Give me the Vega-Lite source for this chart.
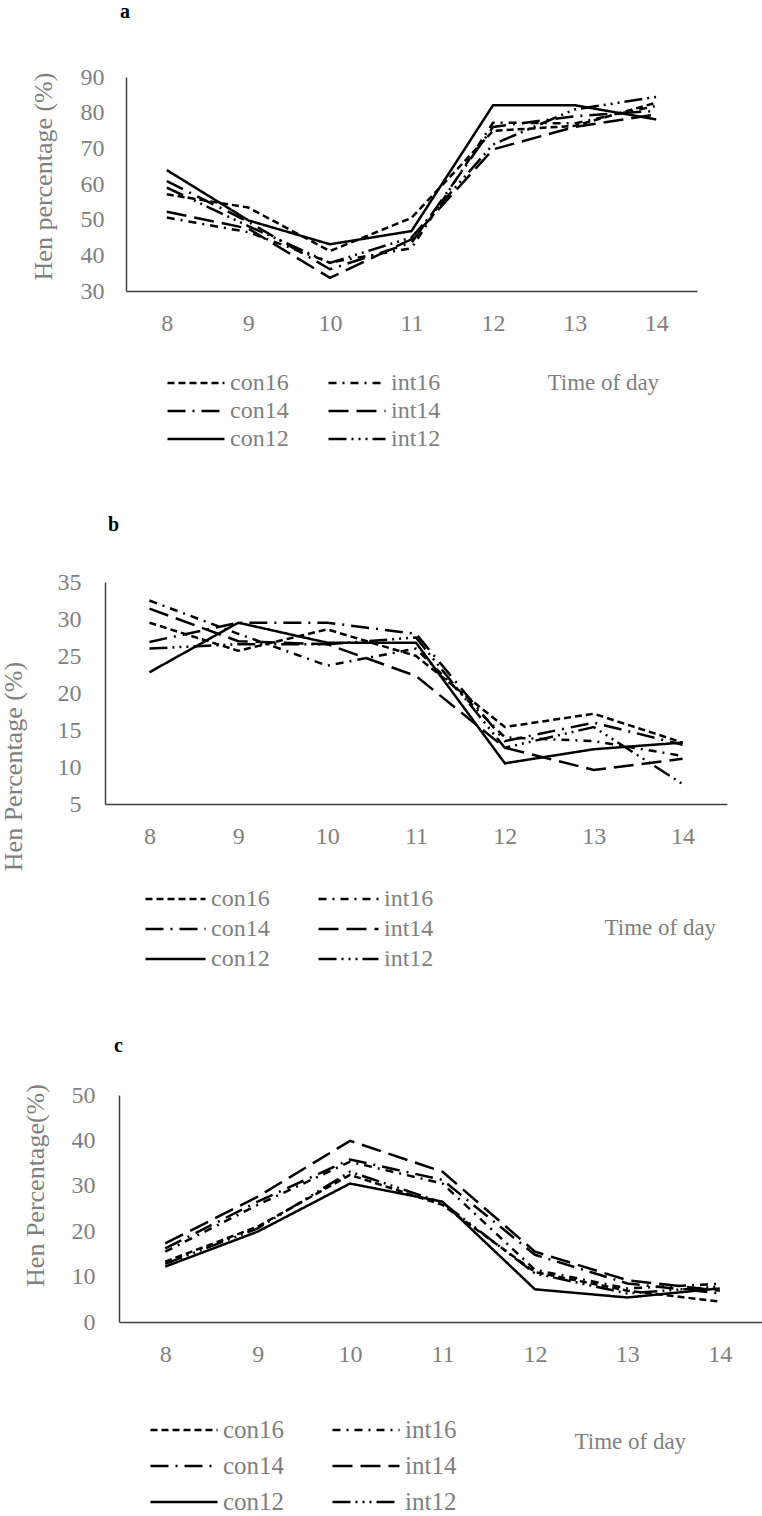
{
  "$schema": "https://vega.github.io/schema/vega-lite/v6.json",
  "padding": {"top": 2, "left": 0, "right": 0, "bottom": 0},
  "background": "white",
  "spacing": 62,
  "config": {
    "view": {"stroke": null},
    "font": "Liberation Serif",
    "axis": {"grid": false, "ticks": false, "domainColor": "#404040", "domainWidth": 1.5, "labelFont": "Liberation Serif", "labelColor": "#7f7f7f", "labelFontSize": 24, "titleFont": "Liberation Serif", "titleColor": "#7f7f7f", "titleFontWeight": "normal", "titleFontSize": 26},
    "axisX": {"labelAngle": 0, "labelPadding": 20, "titleFontSize": 23},
    "legend": {"labelFont": "Liberation Serif", "labelColor": "#7f7f7f", "labelFontSize": 24, "symbolType": "stroke", "symbolStrokeColor": "#000", "symbolStrokeWidth": 2.5, "labelOffset": 4, "padding": 0, "title": null},
    "title": {"font": "Liberation Serif", "fontWeight": "bold", "color": "#000", "fontSize": 20, "anchor": "start", "frame": "group", "baseline": "alphabetic"}
  },
  "resolve": {"scale": {"x": "independent", "y": "independent", "strokeDash": "independent"}, "legend": {"strokeDash": "independent"}},
  "datasets": {
    "a": [
      {"time": 8, "series": "con16", "value": 57.1}, {"time": 9, "series": "con16", "value": 53.4}, {"time": 10, "series": "con16", "value": 41.2}, {"time": 11, "series": "con16", "value": 50.5}, {"time": 12, "series": "con16", "value": 74.9}, {"time": 13, "series": "con16", "value": 76.3}, {"time": 14, "series": "con16", "value": 82.8},
      {"time": 8, "series": "int16", "value": 50.6}, {"time": 9, "series": "int16", "value": 46.5}, {"time": 10, "series": "int16", "value": 38.0}, {"time": 11, "series": "int16", "value": 42.0}, {"time": 12, "series": "int16", "value": 77.2}, {"time": 13, "series": "int16", "value": 77.0}, {"time": 14, "series": "int16", "value": 81.9},
      {"time": 8, "series": "con14", "value": 60.8}, {"time": 9, "series": "con14", "value": 49.4}, {"time": 10, "series": "con14", "value": 36.1}, {"time": 11, "series": "con14", "value": 43.5}, {"time": 12, "series": "con14", "value": 76.0}, {"time": 13, "series": "con14", "value": 79.0}, {"time": 14, "series": "con14", "value": 80.5},
      {"time": 8, "series": "int14", "value": 52.2}, {"time": 9, "series": "int14", "value": 47.5}, {"time": 10, "series": "int14", "value": 33.7}, {"time": 11, "series": "int14", "value": 44.5}, {"time": 12, "series": "int14", "value": 69.7}, {"time": 13, "series": "int14", "value": 76.0}, {"time": 14, "series": "int14", "value": 79.5},
      {"time": 8, "series": "con12", "value": 63.9}, {"time": 9, "series": "con12", "value": 49.8}, {"time": 10, "series": "con12", "value": 43.1}, {"time": 11, "series": "con12", "value": 46.8}, {"time": 12, "series": "con12", "value": 82.1}, {"time": 13, "series": "con12", "value": 82.1}, {"time": 14, "series": "con12", "value": 78.1},
      {"time": 8, "series": "int12", "value": 59.0}, {"time": 9, "series": "int12", "value": 48.2}, {"time": 10, "series": "int12", "value": 37.9}, {"time": 11, "series": "int12", "value": 45.0}, {"time": 12, "series": "int12", "value": 71.1}, {"time": 13, "series": "int12", "value": 80.9}, {"time": 14, "series": "int12", "value": 84.4}
    ],
    "b": [
      {"time": 8, "series": "con16", "value": 29.5}, {"time": 9, "series": "con16", "value": 25.7}, {"time": 10, "series": "con16", "value": 28.6}, {"time": 11, "series": "con16", "value": 25.0}, {"time": 12, "series": "con16", "value": 15.4}, {"time": 13, "series": "con16", "value": 17.2}, {"time": 14, "series": "con16", "value": 13.3},
      {"time": 8, "series": "int16", "value": 32.5}, {"time": 9, "series": "int16", "value": 28.0}, {"time": 10, "series": "int16", "value": 23.7}, {"time": 11, "series": "int16", "value": 26.0}, {"time": 12, "series": "int16", "value": 14.0}, {"time": 13, "series": "int16", "value": 13.5}, {"time": 14, "series": "int16", "value": 11.5},
      {"time": 8, "series": "con14", "value": 26.9}, {"time": 9, "series": "con14", "value": 29.5}, {"time": 10, "series": "con14", "value": 29.5}, {"time": 11, "series": "con14", "value": 28.0}, {"time": 12, "series": "con14", "value": 13.5}, {"time": 13, "series": "con14", "value": 16.0}, {"time": 14, "series": "con14", "value": 13.0},
      {"time": 8, "series": "int14", "value": 31.4}, {"time": 9, "series": "int14", "value": 27.0}, {"time": 10, "series": "int14", "value": 26.6}, {"time": 11, "series": "int14", "value": 22.3}, {"time": 12, "series": "int14", "value": 12.6}, {"time": 13, "series": "int14", "value": 9.6}, {"time": 14, "series": "int14", "value": 11.1},
      {"time": 8, "series": "con12", "value": 22.8}, {"time": 9, "series": "con12", "value": 29.5}, {"time": 10, "series": "con12", "value": 26.8}, {"time": 11, "series": "con12", "value": 26.8}, {"time": 12, "series": "con12", "value": 10.5}, {"time": 13, "series": "con12", "value": 12.4}, {"time": 14, "series": "con12", "value": 13.3},
      {"time": 8, "series": "int12", "value": 26.0}, {"time": 9, "series": "int12", "value": 26.6}, {"time": 10, "series": "int12", "value": 26.6}, {"time": 11, "series": "int12", "value": 27.5}, {"time": 12, "series": "int12", "value": 12.6}, {"time": 13, "series": "int12", "value": 15.4}, {"time": 14, "series": "int12", "value": 7.7}
    ],
    "c": [
      {"time": 8, "series": "con16", "value": 13.3}, {"time": 9, "series": "con16", "value": 21.0}, {"time": 10, "series": "con16", "value": 32.4}, {"time": 11, "series": "con16", "value": 25.8}, {"time": 12, "series": "con16", "value": 11.0}, {"time": 13, "series": "con16", "value": 6.9}, {"time": 14, "series": "con16", "value": 4.5},
      {"time": 8, "series": "int16", "value": 15.5}, {"time": 9, "series": "int16", "value": 25.8}, {"time": 10, "series": "int16", "value": 35.3}, {"time": 11, "series": "int16", "value": 30.5}, {"time": 12, "series": "int16", "value": 11.5}, {"time": 13, "series": "int16", "value": 7.4}, {"time": 14, "series": "int16", "value": 8.4},
      {"time": 8, "series": "con14", "value": 16.2}, {"time": 9, "series": "con14", "value": 26.5}, {"time": 10, "series": "con14", "value": 35.8}, {"time": 11, "series": "con14", "value": 31.3}, {"time": 12, "series": "con14", "value": 14.8}, {"time": 13, "series": "con14", "value": 8.5}, {"time": 14, "series": "con14", "value": 6.3},
      {"time": 8, "series": "int14", "value": 17.3}, {"time": 9, "series": "int14", "value": 27.6}, {"time": 10, "series": "int14", "value": 39.9}, {"time": 11, "series": "int14", "value": 33.1}, {"time": 12, "series": "int14", "value": 15.5}, {"time": 13, "series": "int14", "value": 9.2}, {"time": 14, "series": "int14", "value": 6.9},
      {"time": 8, "series": "con12", "value": 12.2}, {"time": 9, "series": "con12", "value": 19.9}, {"time": 10, "series": "con12", "value": 30.5}, {"time": 11, "series": "con12", "value": 26.5}, {"time": 12, "series": "con12", "value": 7.2}, {"time": 13, "series": "con12", "value": 5.4}, {"time": 14, "series": "con12", "value": 7.4},
      {"time": 8, "series": "int12", "value": 12.8}, {"time": 9, "series": "int12", "value": 20.6}, {"time": 10, "series": "int12", "value": 33.1}, {"time": 11, "series": "int12", "value": 26.3}, {"time": 12, "series": "int12", "value": 10.7}, {"time": 13, "series": "int12", "value": 6.3}, {"time": 14, "series": "int12", "value": 7.8}
    ]
  },
  "vconcat": [
    {
      "width": 592, "height": 214,
      "title": {"text": "a", "dx": 15, "offset": 43},
      "data": {"name": "a"},
      "mark": {"type": "line", "color": "#000", "strokeWidth": 2.5},
      "encoding": {
        "x": {"field": "time", "type": "ordinal", "scale": {"type": "point", "padding": 0.5, "range": [21, 592]},
              "axis": {"title": "Time of day", "titleX": 442, "titleY": 91, "titleAlign": "left", "titleBaseline": "middle", "labelFont": "Liberation Serif", "titleFont": "Liberation Serif"}},
        "y": {"field": "value", "type": "quantitative", "scale": {"domain": [30, 90], "nice": false, "zero": false},
              "axis": {"values": [30, 40, 50, 60, 70, 80, 90], "offset": -21, "labelPadding": 22, "title": "Hen percentage (%)", "titleX": -70, "titleY": 99, "titleAngle": -90, "titleAlign": "center", "titleBaseline": "bottom", "labelFont": "Liberation Serif", "titleFont": "Liberation Serif"}},
        "strokeDash": {"field": "series", "type": "nominal",
              "scale": {"domain": ["con16", "con14", "con12", "int16", "int14", "int12"], "range": [[7, 4], [18, 7, 2, 7], [1, 0], [8, 6, 2, 6], [20, 8], [18, 5, 2, 5, 2, 5, 2, 5]]},
              "legend": {"orient": "none", "legendX": 61, "legendY": 292, "columns": 2, "columnPadding": 38, "rowPadding": 0, "clipHeight": 28, "symbolSize": 3249, "labelFont": "Liberation Serif"}}
      }
    },
    {
      "width": 622, "height": 222,
      "title": {"text": "b", "dx": 3, "offset": 35},
      "data": {"name": "b"},
      "mark": {"type": "line", "color": "#000", "strokeWidth": 2.5},
      "encoding": {
        "x": {"field": "time", "type": "ordinal", "scale": {"type": "point", "padding": 0.5},
              "axis": {"title": "Time of day", "titleX": 499, "titleY": 123, "titleAlign": "left", "titleBaseline": "middle", "labelFont": "Liberation Serif", "titleFont": "Liberation Serif"}},
        "y": {"field": "value", "type": "quantitative", "scale": {"domain": [5, 35], "nice": false, "zero": false},
              "axis": {"values": [5, 10, 15, 20, 25, 30, 35], "labelPadding": 24, "title": "Hen Percentage (%)", "titleX": -79, "titleY": 184, "titleAngle": -90, "titleAlign": "center", "titleBaseline": "bottom", "labelFont": "Liberation Serif", "titleFont": "Liberation Serif"}},
        "strokeDash": {"field": "series", "type": "nominal",
              "scale": {"domain": ["con16", "con14", "con12", "int16", "int14", "int12"], "range": [[7, 4], [18, 7, 2, 7], [1, 0], [8, 6, 2, 6], [20, 8], [18, 5, 2, 5, 2, 5, 2, 5]]},
              "legend": {"orient": "none", "legendX": 39, "legendY": 302, "columns": 2, "columnPadding": 47, "rowPadding": 0, "clipHeight": 30, "symbolSize": 3600, "labelFont": "Liberation Serif"}}
      }
    },
    {
      "width": 661, "height": 227,
      "title": {"text": "c", "dx": 9, "offset": 27},
      "data": {"name": "c"},
      "mark": {"type": "line", "color": "#000", "strokeWidth": 2.5},
      "encoding": {
        "x": {"field": "time", "type": "ordinal", "scale": {"type": "point", "padding": 0.5, "range": [14, 661]},
              "axis": {"title": "Time of day", "titleX": 469, "titleY": 119, "titleAlign": "left", "titleBaseline": "middle", "labelFont": "Liberation Serif", "titleFont": "Liberation Serif"}},
        "y": {"field": "value", "type": "quantitative", "scale": {"domain": [0, 50], "nice": false, "zero": false},
              "axis": {"values": [0, 10, 20, 30, 40, 50], "offset": -14, "labelPadding": 24, "title": "Hen Percentage(%)", "titleX": -71, "titleY": 90, "titleAngle": -90, "titleAlign": "center", "titleBaseline": "bottom", "labelFont": "Liberation Serif", "titleFont": "Liberation Serif"}},
        "strokeDash": {"field": "series", "type": "nominal",
              "scale": {"domain": ["con16", "con14", "con12", "int16", "int14", "int12"], "range": [[7, 4], [18, 7, 2, 7], [1, 0], [8, 6, 2, 6], [20, 8], [18, 5, 2, 5, 2, 5, 2, 5]]},
              "legend": {"orient": "none", "legendX": 44, "legendY": 317, "columns": 2, "columnPadding": 46, "rowPadding": 0, "clipHeight": 36, "symbolSize": 4489, "labelFontSize": 25, "labelFont": "Liberation Serif"}}
      }
    }
  ]
}
